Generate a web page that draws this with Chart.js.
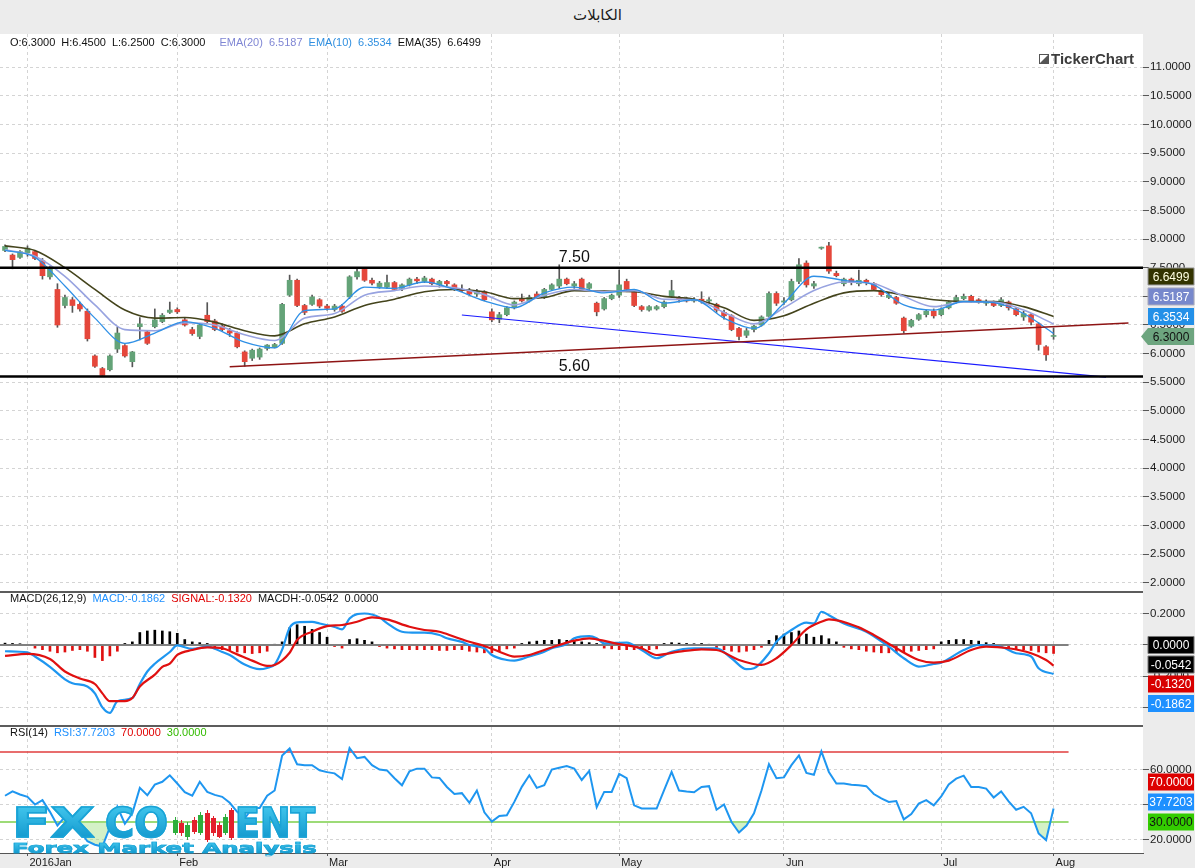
<!DOCTYPE html>
<html lang="ar">
<head>
<meta charset="UTF-8">
<title>الكابلات</title>
<script src="https://cdn.jsdelivr.net/npm/chart.js"></script>
<style>
  html, body { margin: 0; padding: 0; }
  body { width: 1195px; height: 868px; position: relative; overflow: hidden; background: #fff; font-family: "Liberation Sans", Arial, sans-serif; }
  .abs { position: absolute; }
  #title { left: 0; top: 0; width: 1195px; height: 34px; background: #ececec; text-align: center; font: 15px "DejaVu Sans", sans-serif; line-height: 31px; color: #1a1a1a; }
  #axisBg { left: 1143px; top: 34px; width: 52px; height: 834px; background: #ececec; }
  #xBg { left: 0; top: 853px; width: 1143px; height: 15px; background: #ececec; }
  .sep { left: 0; width: 1143px; height: 2px; background: #5c5c5c; }
  .legend { left: 10px; font-size: 11px; line-height: 14px; white-space: pre; color: #111; }
  .legend span { margin-right: 6px; }
  canvas { position: absolute; left: 0; }
  .fx { font-family: "DejaVu Sans", sans-serif; font-weight: bold; white-space: pre; transform-origin: left top;
        background: linear-gradient(#45c9ef, #0b92c9); -webkit-background-clip: text; background-clip: text; color: transparent;
        -webkit-text-stroke: 1.5px #1aa3d6; }
  #fxSub { -webkit-text-stroke: 0.6px #1aa3d6; }
  #tc { left: 1039px; top: 50px; font: bold 15px "Liberation Sans", Arial, sans-serif; color: #3c3c3c; }
  #tc i { display: inline-block; width: 8px; height: 8px; margin-right: 2px; background: linear-gradient(135deg, #fff 0 45%, #555 55%); border: 1px solid #555; }
</style>
</head>
<body>
<div id="title" class="abs">الكابلات</div>
<div id="axisBg" class="abs"></div>
<div id="xBg" class="abs"></div>

<canvas id="price" width="1195" height="558" style="top:34px"></canvas>
<canvas id="macd" width="1195" height="133" style="top:593px"></canvas>
<canvas id="rsi" width="1195" height="141" style="top:727px"></canvas>

<div class="abs sep" style="top:591px"></div>
<div class="abs sep" style="top:725px"></div>

<div id="legPrice" class="abs legend" style="top:35px"></div>
<div id="legMacd" class="abs legend" style="top:591px"></div>
<div id="legRsi" class="abs legend" style="top:725px"></div>
<div id="tc" class="abs"><i></i>TickerChart</div>

<div id="fxA" class="abs fx" style="left:12px;top:803px;font-size:41px;line-height:41px">FX</div>
<div id="fxB" class="abs fx" style="left:105px;top:803px;font-size:41px;line-height:41px">CO</div>
<div id="fxCandles" class="abs" style="left:170px;top:800px;width:64px;height:45px"></div>
<div id="fxC" class="abs fx" style="left:235px;top:803px;font-size:41px;line-height:41px">ENT</div>
<div id="fxSub" class="abs fx" style="left:12px;top:841px;font-size:14px;line-height:14px">Forex Market Analysis</div>

<script>
// ---------- data ----------
const monthIdx = [3, 23, 43, 65, 82, 104, 125, 140];
const monthLabels = ['2016Jan', 'Feb', 'Mar', 'Apr', 'May', 'Jun', 'Jul', 'Aug'];

const opens = [7.80,7.72,7.68,7.76,7.78,7.62,7.34,7.12,6.84,6.94,6.86,6.74,5.96,5.74,5.72,6.08,6.14,5.86,6.47,6.38,
  6.47,6.56,6.72,6.77,6.59,6.42,6.30,6.67,6.57,6.48,6.40,6.36,6.03,5.92,5.94,6.09,6.11,6.18,7.02,7.28,
  6.84,6.86,6.94,6.83,6.77,6.83,6.99,7.34,7.47,7.28,7.17,7.16,7.24,7.14,7.20,7.30,7.26,7.30,7.20,7.26,
  7.20,7.12,7.10,7.04,7.08,6.73,6.60,6.68,6.80,6.96,6.92,7.04,6.98,7.12,7.18,7.30,7.18,7.30,7.14,6.88,
  6.78,6.96,7.02,7.26,7.08,6.82,6.76,6.78,6.82,7.00,6.98,6.96,6.92,6.95,6.92,6.86,6.72,6.66,6.44,6.32,
  6.42,6.50,6.65,7.05,6.90,6.94,7.26,7.58,7.18,7.84,7.88,7.40,7.22,7.30,7.22,7.28,7.22,7.10,6.98,6.98,
  6.62,6.48,6.60,6.68,6.74,6.68,6.80,6.90,6.96,7.00,6.94,6.88,6.90,6.84,6.90,6.78,6.64,6.68,6.52,6.12,
  6.30];
const highs = [7.90,7.74,7.80,7.88,7.80,7.66,7.52,7.22,7.02,6.98,6.90,6.78,5.98,5.76,5.98,6.46,6.16,6.04,6.63,6.40,
  6.78,6.70,6.90,6.80,6.62,6.46,6.52,6.89,6.60,6.52,6.44,6.38,6.05,6.08,6.10,6.16,6.18,6.88,7.37,7.30,
  6.86,7.02,6.96,6.86,6.86,6.86,7.36,7.50,7.50,7.32,7.26,7.37,7.26,7.22,7.32,7.33,7.35,7.32,7.28,7.28,
  7.22,7.20,7.14,7.12,7.10,6.78,6.72,6.82,6.92,7.04,7.02,7.08,7.14,7.22,7.55,7.32,7.26,7.32,7.24,6.90,
  6.98,7.04,7.46,7.30,7.10,6.84,6.84,6.84,6.92,7.28,7.00,6.98,6.98,7.08,6.98,6.88,6.76,6.68,6.46,6.44,
  6.50,6.66,7.08,7.08,6.98,7.30,7.66,7.62,7.26,7.86,7.94,7.44,7.32,7.32,7.46,7.30,7.24,7.12,7.06,7.00,
  6.64,6.60,6.70,6.76,6.78,6.80,6.92,7.02,7.04,7.02,6.96,6.94,6.92,6.98,6.92,6.80,6.74,6.70,6.54,6.14,
  6.45];
const lows = [7.78,7.48,7.66,7.70,7.64,7.30,7.30,6.46,6.80,6.72,6.74,6.22,5.76,5.60,5.70,6.02,5.94,5.77,6.24,6.16,
  6.45,6.54,6.70,6.70,6.48,6.32,6.26,6.54,6.40,6.40,6.30,6.10,5.78,5.88,5.90,6.06,6.10,6.16,7.00,6.82,
  6.68,6.84,6.80,6.76,6.74,6.72,6.96,7.30,7.26,7.20,7.14,7.14,7.10,7.10,7.18,7.22,7.24,7.20,7.16,7.18,
  7.10,7.08,7.02,7.00,6.92,6.56,6.54,6.66,6.78,6.90,6.90,6.96,6.96,7.10,7.14,7.20,7.14,7.10,7.12,6.66,
  6.76,6.94,6.98,7.08,6.82,6.74,6.74,6.76,6.80,6.98,6.90,6.90,6.90,6.88,6.88,6.72,6.60,6.40,6.24,6.28,
  6.38,6.48,6.62,6.84,6.86,6.92,7.22,7.16,7.14,7.82,7.40,7.34,7.18,7.20,7.18,7.20,7.10,7.00,6.96,6.86,
  6.36,6.46,6.58,6.64,6.62,6.66,6.78,6.88,6.94,6.90,6.88,6.84,6.82,6.82,6.76,6.66,6.58,6.50,6.06,5.88,
  6.25];
const closes = [7.87,7.64,7.78,7.84,7.66,7.36,7.50,6.50,6.98,6.84,6.78,6.26,5.78,5.62,5.96,6.36,5.96,6.03,6.52,6.18,
  6.59,6.67,6.76,6.73,6.50,6.35,6.50,6.56,6.42,6.42,6.36,6.12,5.86,6.06,6.08,6.15,6.16,6.86,7.28,6.84,
  6.72,6.99,6.83,6.79,6.83,6.74,7.34,7.43,7.28,7.23,7.23,7.24,7.12,7.20,7.30,7.27,7.32,7.22,7.26,7.22,
  7.13,7.10,7.04,7.08,6.94,6.59,6.68,6.80,6.90,6.92,6.98,6.98,7.12,7.20,7.30,7.22,7.22,7.12,7.22,6.73,
  6.96,7.02,7.20,7.12,6.84,6.77,6.82,6.82,6.90,7.10,6.94,6.92,6.95,6.92,6.94,6.76,6.66,6.42,6.30,6.40,
  6.48,6.64,7.05,6.88,6.92,7.26,7.55,7.20,7.22,7.84,7.44,7.36,7.30,7.24,7.28,7.24,7.12,7.03,7.02,6.88,
  6.40,6.58,6.68,6.74,6.66,6.78,6.90,6.98,7.00,6.92,6.90,6.90,6.84,6.94,6.80,6.68,6.70,6.55,6.16,5.98,
  6.30];

// moving averages, read every 4th bar
const emaIdx = [0,4,8,12,16,20,24,28,32,36,40,44,48,52,56,60,64,68,72,76,80,84,88,92,96,100,104,108,112,116,120,124,128,132,136,140];
const ema10 = [7.80,7.68,7.18,6.62,6.18,6.36,6.56,6.44,6.20,6.10,6.75,6.78,7.16,7.14,7.25,7.12,6.92,6.80,7.06,7.16,
  7.06,7.12,6.88,6.94,6.62,6.44,6.88,7.35,7.28,7.20,6.85,6.76,6.91,6.89,6.70,6.3534];
const ema20 = [7.81,7.70,7.35,6.85,6.42,6.40,6.54,6.50,6.33,6.23,6.62,6.70,7.02,7.10,7.18,7.15,7.03,6.85,7.02,7.12,
  7.08,7.10,6.95,6.94,6.72,6.52,6.80,7.10,7.25,7.22,7.00,6.82,6.90,6.90,6.76,6.5187];
const ema35 = [7.88,7.80,7.50,7.12,6.76,6.62,6.63,6.55,6.40,6.31,6.52,6.64,6.84,6.95,7.08,7.12,7.08,6.96,6.98,7.10,
  7.09,7.08,7.00,6.95,6.80,6.58,6.66,6.88,7.06,7.10,7.02,6.94,6.91,6.91,6.82,6.6499];

// drawn lines on the price panel
const levels = [7.50, 5.60];
const levelLabelAt = 76;
const redLineIdx = [30, 150], redLineVal = [5.77, 6.535];
const blueLineIdx = [61, 147], blueLineVal = [6.674, 5.59];

// MACD(26,12,9)
const macdIdx = [0,3,4,6,8,9,11,12,13,14,15,17,18,19,20,22,23,25,27,29,30,32,34,35,36,37,38,39,41,42,
  44,45,46,47,48,50,51,53,55,56,58,59,61,62,64,65,67,68,70,72,73,75,76,78,79,80,83,85,87,89,
  92,95,97,99,100,102,103,105,107,108,109,110,112,115,118,120,122,124,125,128,130,133,135,137,138,140];
const macdVals = [-0.04,-0.047,-0.074,-0.14,-0.22,-0.245,-0.266,-0.31,-0.40,-0.435,-0.36,-0.34,-0.25,-0.17,-0.12,-0.045,-0.003,-0.025,-0.01,-0.045,
  -0.064,-0.125,-0.155,-0.147,-0.125,-0.03,0.11,0.145,0.148,0.138,0.115,0.1,0.17,0.198,0.202,0.177,0.14,0.085,0.079,0.079,
  0.064,0.043,0.02,0.0,-0.021,-0.064,-0.096,-0.1,-0.074,-0.043,-0.021,0.006,0.043,0.057,0.043,0.011,0.015,-0.032,-0.085,-0.043,
  -0.021,-0.021,-0.085,-0.155,-0.149,-0.053,0.021,0.096,0.143,0.138,0.213,0.191,0.138,0.085,-0.011,-0.085,-0.138,-0.121,-0.113,-0.032,
  0.0,-0.011,-0.053,-0.074,-0.149,-0.1862];
const signalIdx = [0,3,6,8,10,12,13,14,16,17,18,20,21,22,23,25,27,29,31,33,35,36,38,39,41,43,45,47,49,51,
  54,56,58,60,62,64,66,68,70,72,74,76,78,79,82,85,87,90,93,95,98,101,103,105,107,109,110,114,116,119,
  122,124,126,129,131,134,137,139,140];
const signalVals = [-0.07,-0.057,-0.09,-0.17,-0.215,-0.25,-0.31,-0.36,-0.36,-0.34,-0.266,-0.19,-0.14,-0.12,-0.064,-0.032,-0.015,-0.021,-0.06,-0.1,
  -0.134,-0.128,-0.05,0.032,0.085,0.121,0.128,0.149,0.177,0.164,0.117,0.096,0.085,0.053,0.021,-0.006,-0.043,-0.074,-0.064,-0.032,
  0.0,0.028,0.043,0.036,0.006,-0.021,-0.064,-0.043,-0.028,-0.032,-0.096,-0.128,-0.085,0.0,0.1,0.149,0.164,0.113,0.064,-0.021,
  -0.096,-0.113,-0.1,-0.032,-0.011,-0.021,-0.053,-0.096,-0.132];
const macdHist = [0.012,0.01,0.008,0.004,-0.02,-0.03,-0.04,-0.05,-0.045,-0.035,-0.03,-0.04,-0.08,-0.1,-0.07,-0.04,0.01,0.02,0.08,0.09,
  0.095,0.09,0.085,0.075,0.035,0.02,0.015,0.01,-0.025,-0.03,-0.035,-0.045,-0.05,-0.055,-0.05,-0.04,0.005,0.02,0.11,0.13,
  0.12,0.1,0.08,0.05,-0.01,-0.02,0.035,0.04,0.03,0.02,-0.01,-0.02,-0.025,-0.03,-0.03,-0.03,-0.03,-0.03,-0.035,-0.035,
  -0.03,-0.03,-0.04,-0.045,-0.05,-0.05,-0.04,-0.025,-0.02,0.01,0.02,0.025,0.03,0.03,0.035,0.03,0.025,0.02,0.015,0.01,
  -0.02,-0.025,-0.03,-0.03,-0.03,-0.03,-0.03,-0.025,0.01,0.015,0.012,0.01,0.008,0.01,0.005,-0.02,-0.03,-0.04,-0.045,-0.04,
  -0.03,-0.015,0.03,0.06,0.07,0.08,0.09,0.07,0.05,0.06,0.04,0.02,-0.015,-0.025,-0.03,-0.04,-0.045,-0.05,-0.05,-0.05,
  -0.045,-0.04,-0.035,-0.03,-0.025,0.02,0.03,0.035,0.035,0.03,0.025,0.015,0.01,-0.01,-0.02,-0.025,-0.03,-0.035,-0.045,-0.05,
  -0.0542];

// RSI(14)
const rsi = [45,47.5,45.7,44.4,40,42.5,35.8,28,33,30,25,19,17,16,27,38.7,29,35,49.5,45.3,
  51.4,53,56.7,52,47,45,53,47.2,45.5,44.4,41,35.8,32,38,38,45,48,68,72,63,
  62.5,62.5,59.6,58.5,57.8,54.5,72.3,66.5,67.2,62.5,60,59.5,55,51,59,60.5,60.5,55.5,55.2,50,
  46,46.5,41,48,35.5,30.2,33.5,33.9,41.5,50.1,56.7,49.5,51,60,61,62,60.5,54,59.2,38.5,
  47.2,47.2,57.5,55,39.5,37.7,37.7,37.7,48.2,58.6,48,47.4,47,50,50.5,37,40,30,24,28,
  35,48,63,55,55.5,62.5,68,58,57,70.4,58.6,52,52,51.3,51,50.5,46,43.5,41.5,42,
  31.5,34.5,40.5,42.5,39.5,44.6,51.5,54.8,56.5,50,50,49.1,44,47.5,41.8,37,38.7,35,23.5,19.7,
  37.7203];
const rsiUpper = 70, rsiLower = 30;

// ---------- helpers ----------
const FONT = '"Liberation Sans", Arial, sans-serif';
Chart.defaults.font.family = FONT;
const X_MIN = -0.67, X_MAX = 151.94;
const bars = opens.map((_, i) => i);
const pts = (xs, ys) => xs.map((x, k) => ({ x: x, y: ys[k] }));
const last = a => a[a.length - 1];

function xAxis(withLabels) {
  return {
    type: 'linear', min: X_MIN, max: X_MAX, offset: false,
    afterBuildTicks: s => { s.ticks = monthIdx.map(v => ({ value: v })); },
    grid: { color: '#d4d4d4', offset: false, drawTicks: withLabels, tickLength: 3, tickColor: '#555' },
    border: { display: withLabels, color: '#555', dash: [3, 3] },
    ticks: { display: withLabels, autoSkip: false, maxRotation: 0, align: 'start', labelOffset: 2, padding: 0,
      color: '#1a1a1a', font: { size: 11 }, callback: (v, i) => monthLabels[i] },
    afterFit: s => { s.height = withLabels ? 15 : 0; s.paddingLeft = 0; s.paddingRight = 0; }
  };
}
function yAxis(min, max, tickVals) {
  return {
    position: 'right', min: min, max: max,
    afterBuildTicks: s => { s.ticks = tickVals.map(v => ({ value: v })); },
    grid: { color: '#d4d4d4', tickColor: '#555', tickLength: 6 },
    border: { display: false, dash: [3, 3] },
    ticks: { padding: 1, color: '#1a1a1a', font: { size: 11.5 }, callback: v => v.toFixed(4) },
    afterFit: s => { s.width = 52; s.paddingTop = 0; s.paddingBottom = 0; }
  };
}
function baseOptions(scales) {
  return { responsive: false, animation: false, events: [], layout: { padding: 0 },
    plugins: { legend: { display: false }, tooltip: { enabled: false } }, scales: scales };
}
// value tags on the right axis, chained from the first one
function tagPlugin(tags, step) {
  return { id: 'tags', afterDraw(chart) {
    const ctx = chart.ctx, ys = chart.scales.y;
    const x0 = chart.chartArea.right + 5, w = 46, h = 17;
    let y = null;
    tags.forEach(t => {
      y = y === null ? ys.getPixelForValue(t.value) : y + step;
      ctx.save();
      ctx.beginPath();
      if (t.arrow) {
        ctx.moveTo(x0 - 7, y); ctx.lineTo(x0, y - h / 2); ctx.lineTo(x0 + w, y - h / 2);
        ctx.lineTo(x0 + w, y + h / 2); ctx.lineTo(x0, y + h / 2); ctx.closePath();
      } else ctx.rect(x0, y - h / 2, w, h);
      ctx.fillStyle = t.bg; ctx.fill();
      if (t.border) { ctx.strokeStyle = t.border; ctx.lineWidth = 1; ctx.stroke(); }
      ctx.fillStyle = t.fg; ctx.font = '12px ' + FONT; ctx.textAlign = 'center'; ctx.textBaseline = 'middle';
      ctx.fillText(t.value.toFixed(4), x0 + w / 2, y + 1);
      ctx.restore();
    });
  } };
}
const levelText = { id: 'levelText', afterDatasetsDraw(chart) {
  const ctx = chart.ctx, xs = chart.scales.x, ys = chart.scales.y;
  ctx.save();
  ctx.font = '16px ' + FONT; ctx.fillStyle = '#111'; ctx.textAlign = 'center'; ctx.textBaseline = 'middle';
  levels.forEach(v => ctx.fillText(v.toFixed(2), xs.getPixelForValue(levelLabelAt), ys.getPixelForValue(v) - 10));
  ctx.restore();
} };

const GREEN = '#64a378', RED = '#e5473b';

// ---------- price panel ----------
const priceTicks = [];
for (let v = 2; v <= 11; v += 0.5) priceTicks.push(v);
new Chart(document.getElementById('price'), {
  type: 'bar',
  data: { datasets: [
    { type: 'line', data: pts([-1, 153], [levels[0], levels[0]]), borderColor: '#000', borderWidth: 2.5, pointRadius: 0, order: 0 },
    { type: 'line', data: pts([-1, 153], [levels[1], levels[1]]), borderColor: '#000', borderWidth: 2.5, pointRadius: 0, order: 0 },
    { type: 'line', data: pts(redLineIdx, redLineVal), borderColor: '#8e1414', borderWidth: 1.5, pointRadius: 0, order: 0 },
    { type: 'line', data: pts(blueLineIdx, blueLineVal), borderColor: '#1a1aff', borderWidth: 1.2, pointRadius: 0, order: 0 },
    { type: 'line', data: pts(emaIdx, ema10), borderColor: '#2f90e6', borderWidth: 1.3, pointRadius: 0, cubicInterpolationMode: 'monotone', order: 1 },
    { type: 'line', data: pts(emaIdx, ema20), borderColor: '#98a3e0', borderWidth: 1.6, pointRadius: 0, cubicInterpolationMode: 'monotone', order: 1 },
    { type: 'line', data: pts(emaIdx, ema35), borderColor: '#44441c', borderWidth: 1.6, pointRadius: 0, cubicInterpolationMode: 'monotone', order: 1 },
    { type: 'bar', data: bars.map(i => ({ x: i, y: [opens[i], closes[i]] })), grouped: false, barThickness: 5, minBarLength: 1,
      backgroundColor: bars.map(i => closes[i] >= opens[i] ? GREEN : RED), order: 3 },
    { type: 'bar', data: bars.map(i => ({ x: i, y: [lows[i], highs[i]] })), grouped: false, barThickness: 1,
      backgroundColor: '#555', order: 4 }
  ] },
  options: baseOptions({ x: xAxis(false), y: yAxis(1.8425, 11.576, priceTicks) }),
  plugins: [levelText, tagPlugin([
    { value: last(closes), bg: '#6da57f', fg: '#111', arrow: true },
    { value: last(ema10), bg: '#2390e8', fg: '#fff' },
    { value: last(ema20), bg: '#7788cc', fg: '#fff', border: '#aab' },
    { value: last(ema35), bg: '#333300', fg: '#ffffe0', border: '#999' }
  ], -20)]
});

// ---------- MACD panel ----------
new Chart(document.getElementById('macd'), {
  type: 'bar',
  data: { datasets: [
    { type: 'line', data: pts(signalIdx, signalVals), borderColor: '#e01010', borderWidth: 2.2, pointRadius: 0, cubicInterpolationMode: 'monotone', order: 1 },
    { type: 'line', data: pts(macdIdx, macdVals), borderColor: '#1e96f0', borderWidth: 2.2, pointRadius: 0, cubicInterpolationMode: 'monotone', order: 2 },
    { type: 'line', data: pts([-1, 142], [0, 0]), borderColor: '#808080', borderWidth: 2, pointRadius: 0, order: 3 },
    { type: 'bar', data: bars.map(i => ({ x: i, y: macdHist[i] })), grouped: false, barThickness: 2,
      backgroundColor: macdHist.map(v => v >= 0 ? '#000' : '#e01010'), order: 4 }
  ] },
  options: baseOptions({ x: xAxis(false), y: yAxis(-0.5192, 0.3333, [0.2, 0, -0.2, -0.4]) }),
  plugins: [tagPlugin([
    { value: 0, bg: '#000', fg: '#fff', border: '#777' },
    { value: last(macdHist), bg: '#000', fg: '#fff', border: '#777' },
    { value: last(signalVals), bg: '#d80000', fg: '#fff' },
    { value: last(macdVals), bg: '#1e90ff', fg: '#fff' }
  ], 19.5)]
});

// ---------- RSI panel ----------
new Chart(document.getElementById('rsi'), {
  type: 'line',
  data: { datasets: [
    { data: pts(bars, rsi), borderColor: '#1e96f0', borderWidth: 2, pointRadius: 0, order: 1,
      fill: { target: { value: rsiLower }, above: 'rgba(0,0,0,0)', below: 'rgba(160,225,130,0.45)' } },
    { data: pts([-1, 142], [rsiUpper, rsiUpper]), borderColor: '#e03c3c', borderWidth: 1.5, pointRadius: 0, order: 2 },
    { data: pts([-1, 142], [rsiLower, rsiLower]), borderColor: '#7ccf4a', borderWidth: 1.5, pointRadius: 0, order: 2 }
  ] },
  options: baseOptions({ x: xAxis(true), y: yAxis(12.29, 84.29, [20, 40, 60]) }),
  plugins: [tagPlugin([
    { value: rsiLower, bg: '#33cc00', fg: '#111' },
    { value: last(rsi), bg: '#1e90ff', fg: '#fff' },
    { value: rsiUpper, bg: '#dd0000', fg: '#fff' }
  ], -20)]
});

// ---------- legends ----------
const f4 = v => v.toFixed(4);
document.getElementById('legPrice').innerHTML =
  `<span>O:${f4(last(opens))}</span><span>H:${f4(last(highs))}</span><span>L:${f4(last(lows))}</span><span style="margin-right:14px">C:${f4(last(closes))}</span>` +
  `<span style="color:#7f86d4">EMA(20)  ${f4(last(ema20))}</span><span style="color:#2f8fe0">EMA(10)  ${f4(last(ema10))}</span><span>EMA(35)  ${f4(last(ema35))}</span>`;
document.getElementById('legMacd').innerHTML =
  `<span>MACD(26,12,9)</span><span style="color:#1e90ff">MACD:${f4(last(macdVals))}</span><span style="color:#e00000">SIGNAL:${f4(last(signalVals))}</span>` +
  `<span>MACDH:${f4(last(macdHist))}</span><span>${f4(0)}</span>`;
document.getElementById('legRsi').innerHTML =
  `<span>RSI(14)</span><span style="color:#1e90ff">RSI:${f4(last(rsi))}</span><span style="color:#e00000">${f4(rsiUpper)}</span><span style="color:#33bb00">${f4(rsiLower)}</span>`;

// ---------- watermark ----------
function fitWidth(id, w) { const el = document.getElementById(id); el.style.transform = `scaleX(${w / el.scrollWidth})`; }
fitWidth('fxA', 83); fitWidth('fxB', 63); fitWidth('fxC', 80); fitWidth('fxSub', 305);
const logoCandles = [[3, 17, 35, 20, 33, 'g'], [9, 20, 36, 23, 33, 'r'], [15, 22, 40, 25, 37, 'g'], [22, 17, 34, 20, 32, 'r'],
  [28, 12, 35, 15, 33, 'g'], [35, 10, 42, 13, 40, 'r'], [41, 16, 36, 18, 33, 'r'], [47, 22, 38, 25, 37, 'r'],
  [53, 14, 35, 17, 33, 'g'], [59, 8, 40, 10, 38, 'r']];
const box = document.getElementById('fxCandles');
logoCandles.forEach(c => {
  const col = c[5] === 'g' ? '#2fae3c' : '#e3202c';
  box.insertAdjacentHTML('beforeend',
    `<div class="abs" style="left:${c[0] + 2}px;top:${c[1]}px;width:1px;height:${c[2] - c[1]}px;background:${col}"></div>` +
    `<div class="abs" style="left:${c[0]}px;top:${c[3]}px;width:5px;height:${c[4] - c[3]}px;background:${col}"></div>`);
});
</script>
</body>
</html>
